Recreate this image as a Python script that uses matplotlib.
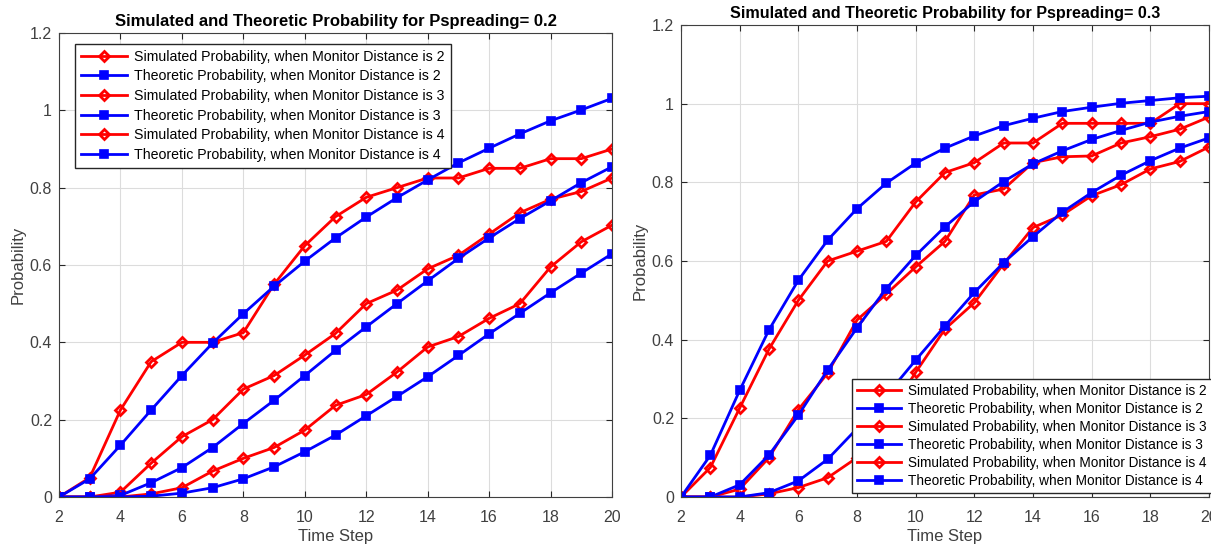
import numpy as np
import matplotlib
matplotlib.use("Agg")
import matplotlib.pyplot as plt

plt.rcParams['font.family'] = ['Liberation Sans', 'DejaVu Sans']

# time steps
steps = list(range(2, 21))

# Pspreading = 0.2
sim_02_d2 = [0, 0.05, 0.225, 0.35, 0.40, 0.40, 0.425, 0.55, 0.65, 0.725, 0.775, 0.80, 0.825, 0.825, 0.85, 0.85, 0.875, 0.875, 0.90]
theo_02_d2 = [0, 0.047, 0.134, 0.225, 0.314, 0.398, 0.474, 0.545, 0.61, 0.67, 0.724, 0.774, 0.82, 0.864, 0.902, 0.939, 0.973, 1.001, 1.031]
sim_02_d3 = [0, 0, 0.0125, 0.0875, 0.156, 0.20, 0.279, 0.314, 0.367, 0.423, 0.50, 0.535, 0.59, 0.625, 0.68, 0.735, 0.77, 0.79, 0.825]
theo_02_d3 = [0, 0, 0.004, 0.037, 0.076, 0.128, 0.19, 0.25, 0.314, 0.379, 0.44, 0.50, 0.559, 0.617, 0.67, 0.72, 0.766, 0.813, 0.854]
sim_02_d4 = [0, 0, 0, 0.008, 0.024, 0.067, 0.10, 0.128, 0.173, 0.237, 0.265, 0.323, 0.388, 0.415, 0.462, 0.50, 0.595, 0.66, 0.703]
theo_02_d4 = [0, 0, 0, 0.002, 0.01, 0.024, 0.047, 0.078, 0.117, 0.16, 0.21, 0.26, 0.311, 0.366, 0.422, 0.475, 0.528, 0.579, 0.629]

# Pspreading = 0.3
sim_03_d2 = [0, 0.075, 0.226, 0.376, 0.50, 0.60, 0.625, 0.65, 0.75, 0.825, 0.85, 0.90, 0.90, 0.95, 0.95, 0.95, 0.95, 1.0, 1.0]
theo_03_d2 = [0, 0.106, 0.271, 0.425, 0.551, 0.653, 0.733, 0.798, 0.849, 0.887, 0.918, 0.944, 0.963, 0.98, 0.991, 1.001, 1.008, 1.015, 1.019]
sim_03_d3 = [0, 0, 0.02, 0.10, 0.222, 0.315, 0.45, 0.516, 0.585, 0.65, 0.768, 0.783, 0.85, 0.865, 0.867, 0.90, 0.916, 0.935, 0.966]
theo_03_d3 = [0, 0, 0.031, 0.107, 0.208, 0.323, 0.43, 0.53, 0.614, 0.687, 0.751, 0.802, 0.847, 0.88, 0.909, 0.932, 0.953, 0.968, 0.98]
sim_03_d4 = [0, 0, 0, 0.008, 0.024, 0.049, 0.10, 0.20, 0.317, 0.427, 0.494, 0.593, 0.685, 0.717, 0.766, 0.794, 0.834, 0.853, 0.89]
theo_03_d4 = [0, 0, 0, 0.011, 0.041, 0.096, 0.174, 0.258, 0.348, 0.435, 0.52, 0.596, 0.662, 0.724, 0.774, 0.818, 0.855, 0.887, 0.913]

distances = [2, 3, 4]
panels = [
    ("0.2", [sim_02_d2, sim_02_d3, sim_02_d4], [theo_02_d2, theo_02_d3, theo_02_d4], 12),
    ("0.3", [sim_03_d2, sim_03_d3, sim_03_d4], [theo_03_d2, theo_03_d3, theo_03_d4], 11.6),
]

fig = plt.figure(figsize=(12.11, 5.44), dpi=100)
ax1 = fig.add_axes([59/1211, 1-497/544, (612-59)/1211, (497-33)/544])
ax2 = fig.add_axes([681/1211, 1-497/544, (1209-681)/1211, (497-25)/544])

txt = '#262626'
for ax, (p, sims, theos, tsize) in zip([ax1, ax2], panels):
    for d, s, t in zip(distances, sims, theos):
        ax.plot(steps, s, '-', color='red', lw=2, marker='D', ms=5, mfc='none', mec='red', mew=2,
                label=f'Simulated Probability, when Monitor Distance is {d}')
        ax.plot(steps, t, '-', color='blue', lw=2, marker='s', ms=5.5, mfc='blue', mec='blue', mew=1.2,
                label=f'Theoretic Probability, when Monitor Distance is {d}')
    ax.set_xlim(2, 20)
    ax.set_ylim(0, 1.2)
    ax.set_xticks(range(2, 21, 2))
    ax.set_yticks([0, 0.2, 0.4, 0.6, 0.8, 1.0, 1.2])
    ax.set_yticklabels(['0', '0.2', '0.4', '0.6', '0.8', '1', '1.2'])
    ax.grid(True, color='#dcdcdc', lw=0.8)
    ax.set_axisbelow(True)
    ax.tick_params(direction='in', labelsize=11.5, colors=txt, labelcolor='#404040', length=4, pad=5,
                   top=True, right=True)
    ax.tick_params(axis='x', pad=9)
    for sp in ax.spines.values():
        sp.set_color('#404040')
        sp.set_linewidth(0.8)
    ax.set_xlabel('Time Step', fontsize=12, color='#404040', labelpad=3)
    ax.set_ylabel('Probability', fontsize=12, color='#404040', labelpad=3)
    ax.set_title(f'Simulated and Theoretic Probability for Pspreading= {p}', fontsize=tsize,
                 fontweight='bold', pad=5)

ax1.legend(loc='upper left', bbox_to_anchor=(16/553, 1-11/464), fontsize=10.2, handlelength=3.3,
           labelspacing=0.4, fancybox=False, edgecolor=txt, framealpha=1, borderpad=0.4,
           handletextpad=0.5, borderaxespad=0)
ax2.legend(loc='lower right', bbox_to_anchor=(1.005, 4/472), fontsize=9.8, handlelength=3.3,
           labelspacing=0.3, fancybox=False, edgecolor=txt, framealpha=1, borderpad=0.35,
           handletextpad=0.5, borderaxespad=0)

fig.savefig('out.png', dpi=100)
